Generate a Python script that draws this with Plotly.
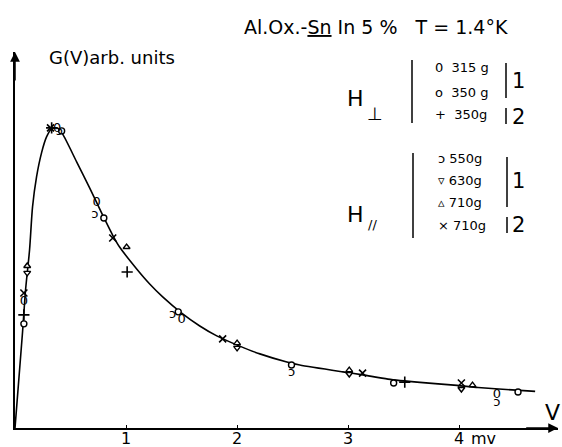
import plotly.graph_objects as go

# ---- data (V in mV, G in arbitrary units) ----
curve_v = [0, 0.068, 0.095, 0.131, 0.158, 0.194, 0.239, 0.284, 0.329, 0.383, 0.428,
           0.555, 0.672, 0.798, 0.879, 0.942, 1.096, 1.213, 1.330, 1.501, 1.664,
           1.817, 1.997, 2.205, 2.448, 2.565, 2.953, 3.133, 3.359, 3.647, 3.981,
           4.170, 4.477, 4.684]
curve_g = [0, 3.20, 4.60, 5.93, 7.37, 8.37, 9.17, 9.70, 9.97, 10.0, 9.80,
           8.87, 8.00, 7.03, 6.43, 6.03, 5.30, 4.80, 4.37, 3.83, 3.40,
           3.07, 2.77, 2.47, 2.20, 2.10, 1.87, 1.77, 1.63, 1.52, 1.42,
           1.35, 1.27, 1.22]

big_o_v = [0.08, 0.38, 0.735, 1.50, 4.34]          # 0 315 g
big_o_g = [4.20, 9.97, 7.50, 3.60, 1.10]
small_o_v = [0.08, 0.42, 0.80, 1.47, 2.49, 3.41, 4.53]   # o 350 g
small_o_g = [3.47, 9.90, 7.00, 3.87, 2.10, 1.50, 1.20]
plus_v = [0.08, 0.33, 1.01, 3.51]                  # + 350 g
plus_g = [3.77, 10.0, 5.20, 1.53]
rc_v = [0.40, 0.72, 1.42, 2.49, 4.34]              # ɔ 550 g
rc_g = [9.87, 7.10, 3.77, 1.83, 0.83]
tri_dn_v = [0.11, 2.00, 3.01, 4.02]                # ▽ 630 g
tri_dn_g = [5.17, 2.67, 1.80, 1.30]
tri_up_v = [0.11, 1.005, 2.00, 3.01, 4.12]         # △ 710 g
tri_up_g = [5.40, 6.03, 2.83, 1.93, 1.43]
cross_v = [0.08, 0.32, 0.88, 1.87, 3.13, 4.02]     # × 710 g
cross_g = [4.50, 10.0, 6.33, 2.97, 1.83, 1.50]

tick_vals = [1, 2, 3, 4]
tick_text = ["1", "2", "3", "4"]

FONT = "DejaVu Sans"
W, H = 562, 447
ML, MR, MT, MB = 15, 4, 52, 19
XMAX = 4.89
YMAX = 12.53


def pp(x, y):
    """pixel -> paper coordinates (layout helper for text/shapes)"""
    return (x - ML) / (W - ML - MR), ((H - MB) - y) / (H - MT - MB)


fig = go.Figure()
fig.add_trace(go.Scatter(x=curve_v, y=curve_g, mode="lines",
                         line=dict(color="black", width=1.6, shape="spline", smoothing=0.7),
                         hoverinfo="skip"))

mk = dict(color="white", line=dict(color="black", width=1.4))
fig.add_trace(go.Scatter(x=small_o_v, y=small_o_g, mode="markers",
                         marker=dict(symbol="circle", size=6, **mk)))
fig.add_trace(go.Scatter(x=tri_dn_v, y=tri_dn_g, mode="markers",
                         marker=dict(symbol="triangle-down", size=6, **mk)))
fig.add_trace(go.Scatter(x=tri_up_v, y=tri_up_g, mode="markers",
                         marker=dict(symbol="triangle-up", size=6, **mk)))
fig.add_trace(go.Scatter(x=plus_v, y=plus_g, mode="markers",
                         marker=dict(symbol="cross-thin", size=8,
                                     line=dict(color="black", width=1.6))))
fig.add_trace(go.Scatter(x=cross_v, y=cross_g, mode="markers",
                         marker=dict(symbol="x-thin", size=7,
                                     line=dict(color="black", width=1.6))))
fig.add_trace(go.Scatter(x=big_o_v, y=big_o_g, mode="text", text=["0"] * len(big_o_v),
                         textposition="middle center",
                         textfont=dict(family=FONT, size=13, color="black")))
fig.add_trace(go.Scatter(x=rc_v, y=rc_g, mode="text", text=["ɔ"] * len(rc_v),
                         textposition="middle center",
                         textfont=dict(family=FONT, size=13, color="black")))

ann = []
shapes = []


def txt(x, y, s, size, anchor="center"):
    px, py = pp(x, y)
    ann.append(dict(xref="paper", yref="paper", x=px, y=py, text=s, showarrow=False,
                    xanchor=anchor, yanchor="middle",
                    font=dict(family=FONT, size=size, color="black")))


def vline(x, y0, y1, w=1.5):
    px, py0 = pp(x, y0)
    _, py1 = pp(x, y1)
    shapes.append(dict(type="line", xref="paper", yref="paper", x0=px, x1=px,
                       y0=py0, y1=py1, line=dict(color="black", width=w)))


txt(376, 27, "Al.Ox.-<u>Sn</u> In 5 %   T = 1.4°K", 19)
txt(47, 57, "G(V)arb. units", 18, anchor="left")

txt(355, 98, "H", 22)
txt(375, 113, "⊥", 18)
vline(412, 60, 123)
txt(433, 68, "0  315 g", 13, anchor="left")
txt(433, 92, "o  350 g", 13, anchor="left")
txt(433, 115, "+  350g", 13, anchor="left")
vline(506, 63, 98)
txt(518, 81, "1", 21)
vline(506, 108, 124)
txt(518, 117, "2", 21)

txt(355, 214, "H", 22)
txt(372, 224, "//", 13)
vline(413, 153, 238)
txt(436, 158, "ɔ 550g", 13, anchor="left")
txt(436, 180, "▿ 630g", 13, anchor="left")
txt(436, 203, "▵ 710g", 13, anchor="left")
txt(436, 225, "× 710g", 13, anchor="left")
vline(507, 157, 207)
txt(518, 181, "1", 21)
vline(507, 217, 233)
txt(518, 225, "2", 21)

txt(552, 412, "V", 22)
txt(469, 438, "mv", 16, anchor="left")

# x tick labels (as annotations so they sit right at the lower edge like the original)
for v, t in zip(tick_vals, tick_text):
    ann.append(dict(xref="x", yref="paper", x=v, y=pp(0, 438)[1], text=t, showarrow=False,
                    xanchor="center", yanchor="middle",
                    font=dict(family=FONT, size=16, color="black")))

# axis arrowheads
ann.append(dict(xref="x", yref="y", axref="x", ayref="y", x=XMAX, y=0, ax=XMAX - 0.3, ay=0,
                text="", showarrow=True, arrowhead=2, arrowsize=1.3, arrowwidth=1.5,
                arrowcolor="black"))
ann.append(dict(xref="x", yref="y", axref="x", ayref="y", x=0, y=YMAX, ax=0, ay=YMAX - 1,
                text="", showarrow=True, arrowhead=2, arrowsize=1.3, arrowwidth=1.5,
                arrowcolor="black"))

fig.update_layout(
    template="none",
    width=W, height=H, margin=dict(l=ML, r=MR, t=MT, b=MB, autoexpand=False),
    paper_bgcolor="white", plot_bgcolor="white", showlegend=False,
    annotations=ann, shapes=shapes, hovermode=False,
    xaxis=dict(range=[0, XMAX], showgrid=False, zeroline=False, showline=True,
               automargin=False, linecolor="black", linewidth=1.5, ticks="inside",
               ticklen=3, tickcolor="black", tickvals=tick_vals, showticklabels=False),
    yaxis=dict(range=[0, YMAX], showgrid=False, zeroline=False, showline=True,
               automargin=False, linecolor="black", linewidth=1.5,
               showticklabels=False, ticks=""),
)

fig.write_html("out.html", config={"displayModeBar": False},
               post_script="document.body.style.margin='0';document.body.style.overflow='hidden';")
